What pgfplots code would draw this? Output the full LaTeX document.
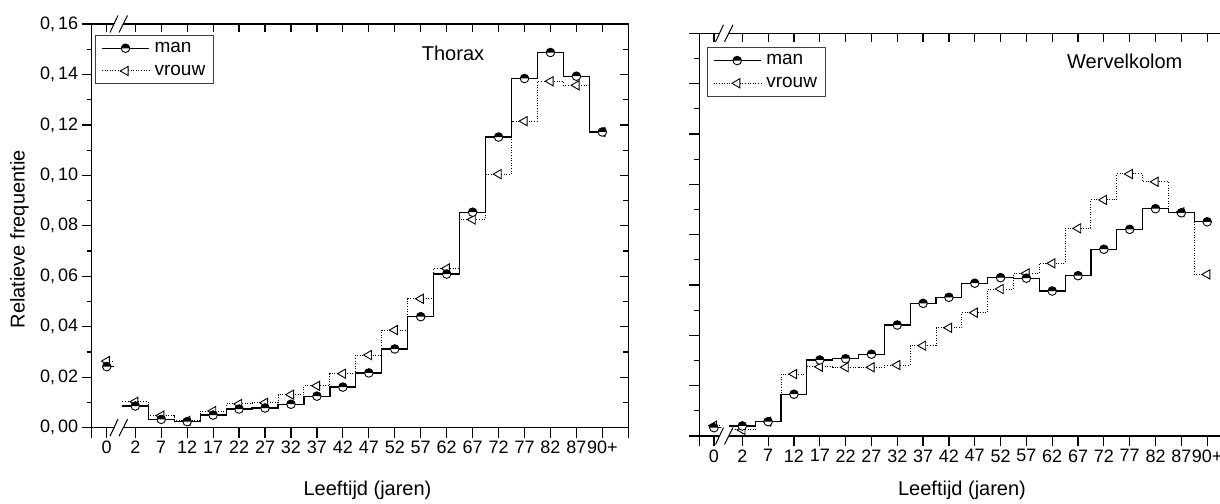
\documentclass[border=0pt]{standalone}
\usepackage{fontspec}
\setmainfont{Liberation Sans}
\usepackage{pgfplots}
\usepackage{pgfplotstable}
\pgfplotsset{compat=1.18}

\pgfdeclareplotmark{halfblack}{%
  \pgfpathcircle{\pgfpointorigin}{\pgfplotmarksize}%
  \pgfsetfillcolor{white}\pgfusepathqfill
  \pgfpathmoveto{\pgfqpoint{\pgfplotmarksize}{0pt}}%
  \pgfpatharc{0}{180}{\pgfplotmarksize}%
  \pgfpathclose
  \pgfsetfillcolor{black}\pgfusepathqfill
  \pgfpathcircle{\pgfpointorigin}{\pgfplotmarksize}%
  \pgfusepathqstroke
}

% position: age 0 -> -1.1, age 2 -> 0, 7 -> 1, ..., 87 -> 17, 90+ -> 18
\pgfplotstableread{
x y
-1.1 0.0242
0 0.0086
1 0.0033
2 0.0024
3 0.0050
4 0.0074
5 0.0078
6 0.0093
7 0.0125
8 0.0161
9 0.0217
10 0.0312
11 0.0440
12 0.0609
13 0.0854
14 0.1152
15 0.1384
16 0.1487
17 0.1393
18 0.1172
}\thoraxman
\pgfplotstableread{
x y
-1.1 0.0264
0 0.0103
1 0.0048
2 0.0027
3 0.0066
4 0.0094
5 0.0099
6 0.0131
7 0.0166
8 0.0214
9 0.0288
10 0.0387
11 0.0511
12 0.0631
13 0.0825
14 0.1005
15 0.1215
16 0.1373
17 0.1357
18 0.1172
}\thoraxvrouw
\pgfplotstableread{
x y
-1.1 0.0033
0 0.0040
1 0.0057
2 0.0166
3 0.0302
4 0.0307
5 0.0325
6 0.0441
7 0.0527
8 0.0551
9 0.0607
10 0.0629
11 0.0627
12 0.0576
13 0.0637
14 0.0742
15 0.0821
16 0.0903
17 0.0887
18 0.0851
}\wervman
\pgfplotstableread{
x y
-1.1 0.0041
0 0.0024
1 0.0057
2 0.0246
3 0.0275
4 0.0273
5 0.0273
6 0.0282
7 0.0359
8 0.0430
9 0.0490
10 0.0584
11 0.0646
12 0.0686
13 0.0825
14 0.0938
15 0.1041
16 0.1010
17 0.0889
18 0.0642
}\wervvrouw

\pgfplotsset{
  manL/.style={black, line width=1.2pt, solid},
  vrL/.style={black, line width=1pt, dash pattern=on 1pt off 1.6pt},
  manM/.style={mark=halfblack, mark size=4.3pt, mark options={solid, black, line width=0.9pt}},
  vrM/.style={mark=triangle*, mark size=5.3pt, mark options={solid, black, fill=white, rotate=90, line width=0.9pt}},
  mainax/.style={
    scale only axis, anchor=south west,
    ymin=0, ymax=0.16, xmax=19,
    axis line style={line width=1.3pt},
    tick style={black, line width=1.2pt},
    xtick={-1.1,0,1,2,3,4,5,6,7,8,9,10,11,12,13,14,15,16,17,18},
    ytick={0,0.02,0.04,0.06,0.08,0.10,0.12,0.14,0.16},
    minor y tick num=1,
    /pgf/number format/assume math mode=true,
    tick label style={font=\fontsize{18}{21}\selectfont},
    clip=false,
  },
  outer/.style={mainax,
    tick align=outside, xtick pos=left, ytick pos=left,
    major tick length=10pt, minor tick length=5pt,
    xticklabels={0,2,7,12,17,22,27,32,37,42,47,52,57,62,67,72,77,82,87,90+},
    extra x tick labels={},
    yticklabel style={/pgf/number format/.cd, fixed, fixed zerofill, precision=2, set decimal separator={,\,}},
    legend image code/.code={\draw[mark repeat=2,mark phase=2,#1] plot coordinates {(0pt,0pt) (23.5pt,0pt) (47pt,0pt)};},
    legend style={font=\fontsize{19}{22}\selectfont, draw=black!75, line width=0.8pt, anchor=north west,
      cells={anchor=west}, row sep=7pt, column sep=3pt, inner xsep=6pt, inner ysep=5pt},
  },
  inner/.style={mainax,
    tick align=inside, xtick pos=right, ytick pos=right,
    major tick length=8.5pt, minor tick length=5pt,
    xticklabels={}, yticklabels={},
  },
}

\begin{document}
\begin{tikzpicture}[x=1pt,y=1pt]
\path[use as bounding box] (0,0) rectangle (1220,503);

% ---------------- Thorax ----------------
\begin{axis}[outer, at={(91.7pt,75.3pt)}, width=536.6pt, height=403.7pt, xmin=-1.68,
  extra x ticks={-1.68,19},
  legend style={at={(rel axis cs:0,1)}, xshift=3.3pt, yshift=-11pt}]
\addlegendimage{manL, manM}\addlegendentry{man}
\addlegendimage{vrL, vrM}\addlegendentry{vrouw}
\addplot[vrL, const plot mark mid, restrict x to domain=-0.6:20, forget plot] table {\thoraxvrouw};
\addplot[vrL, forget plot] coordinates {(-0.5,0.0103) (0,0.0103)};
\addplot[vrL, forget plot] coordinates {(-1.1,0.0264) (-0.83,0.0264)};
\addplot[manL, const plot mark mid, restrict x to domain=-0.6:20, forget plot] table {\thoraxman};
\addplot[manL, forget plot] coordinates {(-0.5,0.0086) (0,0.0086)};
\addplot[manL, forget plot] coordinates {(-1.1,0.0242) (-0.83,0.0242)};
\addplot[vrM, only marks, forget plot] table {\thoraxvrouw};
\addplot[manM, only marks, forget plot] table {\thoraxman};
\end{axis}
\begin{axis}[inner, at={(91.7pt,75.3pt)}, width=536.6pt, height=403.7pt, xmin=-1.68]
\addplot[draw=none, forget plot] coordinates {(0,0)};
\end{axis}

% ---------------- Wervelkolom ----------------
\begin{axis}[outer, at={(699.3pt,67pt)}, width=533.7pt, height=402.7pt, xmin=-1.665,
  extra x ticks={-1.665,19},
  yticklabels={},
  legend style={at={(rel axis cs:0,1)}, xshift=7.4pt, yshift=-14pt}]
\addlegendimage{manL, manM}\addlegendentry{man}
\addlegendimage{vrL, vrM}\addlegendentry{vrouw}
\addplot[vrL, const plot mark mid, restrict x to domain=-0.6:20, forget plot] table {\wervvrouw};
\addplot[vrL, forget plot] coordinates {(-0.5,0.0024) (0,0.0024)};
\addplot[vrL, forget plot] coordinates {(-1.1,0.0041) (-0.83,0.0041)};
\addplot[manL, const plot mark mid, restrict x to domain=-0.6:20, forget plot] table {\wervman};
\addplot[manL, forget plot] coordinates {(-0.5,0.0040) (0,0.0040)};
\addplot[manL, forget plot] coordinates {(-1.1,0.0033) (-0.83,0.0033)};
\addplot[vrM, only marks, forget plot] table {\wervvrouw};
\addplot[manM, only marks, forget plot] table {\wervman};
\end{axis}
\begin{axis}[inner, at={(699.3pt,67pt)}, width=533.7pt, height=402.7pt, xmin=-1.665]
\addplot[draw=none, forget plot] coordinates {(0,0)};
\end{axis}

% axis breaks
\foreach \cx/\yy in {119/75.3, 119/479, 724.5/67, 724.5/469.7}{
  \fill[white] ({\cx-9},{\yy-8.5}) -- ({\cx-1},{\yy+8.5}) -- ({\cx+8.5},{\yy+8.5}) -- ({\cx},{\yy-8.5}) -- cycle;
  \draw[line width=1pt] ({\cx-9},{\yy-8.5}) -- ({\cx-1},{\yy+8.5});
  \draw[line width=1pt] ({\cx},{\yy-8.5}) -- ({\cx+8.5},{\yy+8.5});
}

% titles and axis labels
\node[font=\fontsize{20}{24}\selectfont] at (453,449.7) {Thorax};
\node[font=\fontsize{20}{24}\selectfont] at (1124.8,441.3) {Wervelkolom};
\node[font=\fontsize{20}{24}\selectfont, anchor=base] at (367.5,8) {Leeftijd (jaren)};
\node[font=\fontsize{20}{24}\selectfont, anchor=base] at (962,8) {Leeftijd (jaren)};
\node[font=\fontsize{20}{24}\selectfont, rotate=90] at (19.5,263.7) {Relatieve frequentie};
\end{tikzpicture}
\end{document}
